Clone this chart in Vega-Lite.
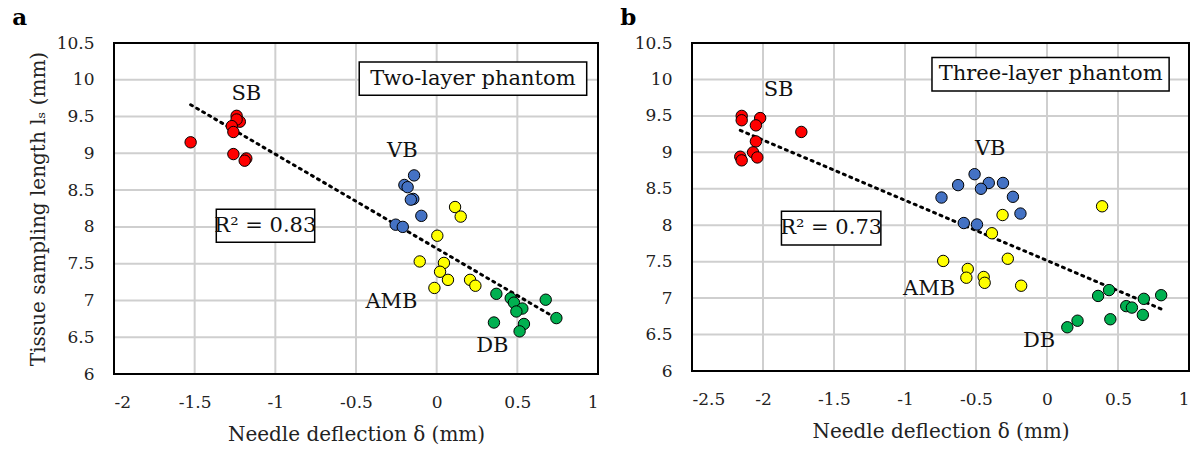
{
  "$schema": "https://vega.github.io/schema/vega-lite/v6.json",
  "padding": {"left": 11, "top": 6, "right": 0, "bottom": 0},
  "background": "white",
  "spacing": 19,
  "datasets": {
    "ptsA": [
      {"x": -1.525, "y": 9.15, "g": "SB"},
      {"x": -1.24, "y": 9.51, "g": "SB"},
      {"x": -1.22, "y": 9.43, "g": "SB"},
      {"x": -1.24, "y": 9.46, "g": "SB"},
      {"x": -1.27, "y": 9.37, "g": "SB"},
      {"x": -1.26, "y": 9.29, "g": "SB"},
      {"x": -1.26, "y": 8.99, "g": "SB"},
      {"x": -1.18, "y": 8.93, "g": "SB"},
      {"x": -1.19, "y": 8.9, "g": "SB"},
      {"x": -0.14, "y": 8.7, "g": "VB"},
      {"x": -0.2, "y": 8.57, "g": "VB"},
      {"x": -0.18, "y": 8.54, "g": "VB"},
      {"x": -0.145, "y": 8.38, "g": "VB"},
      {"x": -0.16, "y": 8.37, "g": "VB"},
      {"x": -0.095, "y": 8.15, "g": "VB"},
      {"x": -0.254, "y": 8.03, "g": "VB"},
      {"x": -0.21, "y": 8.0, "g": "VB"},
      {"x": 0.114, "y": 8.27, "g": "AMB"},
      {"x": 0.149, "y": 8.14, "g": "AMB"},
      {"x": 0.004, "y": 7.88, "g": "AMB"},
      {"x": -0.105, "y": 7.53, "g": "AMB"},
      {"x": 0.045, "y": 7.51, "g": "AMB"},
      {"x": 0.021, "y": 7.39, "g": "AMB"},
      {"x": 0.07, "y": 7.28, "g": "AMB"},
      {"x": 0.207, "y": 7.28, "g": "AMB"},
      {"x": 0.24, "y": 7.2, "g": "AMB"},
      {"x": -0.014, "y": 7.17, "g": "AMB"},
      {"x": 0.37, "y": 7.09, "g": "DB"},
      {"x": 0.459, "y": 7.03, "g": "DB"},
      {"x": 0.479, "y": 6.97, "g": "DB"},
      {"x": 0.531, "y": 6.89, "g": "DB"},
      {"x": 0.494, "y": 6.85, "g": "DB"},
      {"x": 0.676, "y": 7.01, "g": "DB"},
      {"x": 0.742, "y": 6.76, "g": "DB"},
      {"x": 0.355, "y": 6.7, "g": "DB"},
      {"x": 0.541, "y": 6.68, "g": "DB"},
      {"x": 0.514, "y": 6.58, "g": "DB"}
    ],
    "ptsB": [
      {"x": -2.15, "y": 9.5, "g": "SB"},
      {"x": -2.15, "y": 9.44, "g": "SB"},
      {"x": -2.02, "y": 9.47, "g": "SB"},
      {"x": -2.05, "y": 9.37, "g": "SB"},
      {"x": -1.73, "y": 9.28, "g": "SB"},
      {"x": -2.05, "y": 9.15, "g": "SB"},
      {"x": -2.07, "y": 9.0, "g": "SB"},
      {"x": -2.16, "y": 8.94, "g": "SB"},
      {"x": -2.15, "y": 8.89, "g": "SB"},
      {"x": -2.04, "y": 8.93, "g": "SB"},
      {"x": -0.51, "y": 8.7, "g": "VB"},
      {"x": -0.626, "y": 8.55, "g": "VB"},
      {"x": -0.41, "y": 8.58, "g": "VB"},
      {"x": -0.31, "y": 8.58, "g": "VB"},
      {"x": -0.465, "y": 8.5, "g": "VB"},
      {"x": -0.743, "y": 8.38, "g": "VB"},
      {"x": -0.24, "y": 8.39, "g": "VB"},
      {"x": -0.187, "y": 8.16, "g": "VB"},
      {"x": -0.586, "y": 8.03, "g": "VB"},
      {"x": -0.493, "y": 8.01, "g": "VB"},
      {"x": 0.388, "y": 8.26, "g": "AMB"},
      {"x": -0.313, "y": 8.14, "g": "AMB"},
      {"x": -0.388, "y": 7.89, "g": "AMB"},
      {"x": -0.731, "y": 7.51, "g": "AMB"},
      {"x": -0.276, "y": 7.54, "g": "AMB"},
      {"x": -0.558, "y": 7.4, "g": "AMB"},
      {"x": -0.568, "y": 7.28, "g": "AMB"},
      {"x": -0.446, "y": 7.29, "g": "AMB"},
      {"x": -0.439, "y": 7.21, "g": "AMB"},
      {"x": -0.182, "y": 7.17, "g": "AMB"},
      {"x": 0.36, "y": 7.03, "g": "DB"},
      {"x": 0.437, "y": 7.11, "g": "DB"},
      {"x": 0.682, "y": 6.99, "g": "DB"},
      {"x": 0.804, "y": 7.04, "g": "DB"},
      {"x": 0.558, "y": 6.89, "g": "DB"},
      {"x": 0.598, "y": 6.87, "g": "DB"},
      {"x": 0.675, "y": 6.77, "g": "DB"},
      {"x": 0.446, "y": 6.71, "g": "DB"},
      {"x": 0.215, "y": 6.69, "g": "DB"},
      {"x": 0.143, "y": 6.6, "g": "DB"}
    ],
    "labA": [
      {"x": -1.18, "y": 9.81, "t": "SB"},
      {"x": -0.213, "y": 9.03, "t": "VB"},
      {"x": -0.28, "y": 6.98, "t": "AMB"},
      {"x": 0.345, "y": 6.38, "t": "DB"}
    ],
    "labB": [
      {"x": -1.89, "y": 9.86, "t": "SB"},
      {"x": -0.4, "y": 9.05, "t": "VB"},
      {"x": -0.83, "y": 7.12, "t": "AMB"},
      {"x": -0.056, "y": 6.41, "t": "DB"}
    ],
    "boxA": [
      {"x1": -0.48, "x2": 0.93, "y1": 10.24, "y2": 9.79, "xc": 0.225, "yc": 10.01, "t": "Two-layer phantom"},
      {"x1": -1.366, "x2": -0.756, "y1": 8.24, "y2": 7.79, "xc": -1.062, "yc": 8.01, "t": "R² = 0.83"}
    ],
    "boxB": [
      {"x1": -0.81, "x2": 0.86, "y1": 10.3, "y2": 9.84, "xc": 0.026, "yc": 10.07, "t": "Three-layer phantom"},
      {"x1": -1.87, "x2": -1.17, "y1": 8.19, "y2": 7.73, "xc": -1.52, "yc": 7.96, "t": "R² = 0.73"}
    ],
    "gridXA": [{"v": -1.5}, {"v": -1}, {"v": -0.5}, {"v": 0}, {"v": 0.5}],
    "gridXB": [{"v": -2}, {"v": -1.5}, {"v": -1}, {"v": -0.5}, {"v": 0}, {"v": 0.5}],
    "gridY": [{"v": 6.5}, {"v": 7}, {"v": 7.5}, {"v": 8}, {"v": 8.5}, {"v": 9}, {"v": 9.5}, {"v": 10}],
    "frameXA": [{"v": -2}, {"v": 1}],
    "frameXB": [{"v": -2.5}, {"v": 1}],
    "frameY": [{"v": 6}, {"v": 10.5}]
  },
  "hconcat": [
    {
      "width": 484,
      "height": 331,
      "view": {"stroke": "#000000", "strokeWidth": 2, "fill": "white"},
      "title": {"text": "a", "anchor": "start", "frame": "bounds", "dx": -16, "offset": 4, "fontSize": 23, "fontWeight": "bold", "font": "DejaVu Serif", "color": "#000"},
      "layer": [
        {
          "data": {"name": "ptsA"},
          "mark": {"type": "point", "filled": true, "size": 130, "stroke": "black", "strokeWidth": 1, "opacity": 0},
          "encoding": {
            "x": {"field": "x", "type": "quantitative", "scale": {"domain": [-2, 1], "nice": false, "zero": false},
                  "axis": {"tickCount": 6, "labelExpr": "datum.value + ''", "title": "Needle deflection δ (mm)", "labelPadding": 20, "titlePadding": 14}},
            "y": {"field": "y", "type": "quantitative", "scale": {"domain": [6, 10.5], "nice": false, "zero": false},
                  "axis": {"tickCount": 9, "labelExpr": "datum.value + ''", "title": "Tissue sampling length lₛ (mm)", "labelPadding": 20, "titlePadding": 8}}
          }
        },
        {
          "data": {"name": "gridXA"},
          "mark": {"type": "rule", "color": "#cfcfcf", "strokeWidth": 2},
          "encoding": {"x": {"field": "v", "type": "quantitative"}}
        },
        {
          "data": {"name": "gridY"},
          "mark": {"type": "rule", "color": "#cfcfcf", "strokeWidth": 2},
          "encoding": {"y": {"field": "v", "type": "quantitative"}}
        },
        {
          "data": {"name": "boxA"},
          "mark": {"type": "rect", "fill": "white", "stroke": "black", "strokeWidth": 1.5},
          "encoding": {
            "x": {"field": "x1", "type": "quantitative"},
            "x2": {"field": "x2"},
            "y": {"field": "y1", "type": "quantitative"},
            "y2": {"field": "y2"}
          }
        },
        {
          "data": {"name": "ptsA"},
          "transform": [{"regression": "y", "on": "x"}],
          "mark": {"type": "line", "color": "black", "strokeWidth": 3, "strokeDash": [2, 5], "strokeCap": "round"},
          "encoding": {
            "x": {"field": "x", "type": "quantitative"},
            "y": {"field": "y", "type": "quantitative"}
          }
        },
        {
          "data": {"name": "ptsA"},
          "mark": {"type": "point", "filled": true, "size": 130, "stroke": "black", "strokeWidth": 1, "opacity": 1},
          "encoding": {
            "x": {"field": "x", "type": "quantitative"},
            "y": {"field": "y", "type": "quantitative"},
            "fill": {"field": "g", "type": "nominal", "scale": {"domain": ["SB", "VB", "AMB", "DB"], "range": ["#ff0000", "#4472c4", "#ffff00", "#00b050"]}, "legend": null}
          }
        },
        {
          "data": {"name": "labA"},
          "mark": {"type": "text", "fontSize": 21, "color": "#111"},
          "encoding": {
            "x": {"field": "x", "type": "quantitative"},
            "y": {"field": "y", "type": "quantitative"},
            "text": {"field": "t"}
          }
        },
        {
          "data": {"name": "boxA"},
          "mark": {"type": "text", "fontSize": 21, "color": "#111"},
          "encoding": {
            "x": {"field": "xc", "type": "quantitative"},
            "y": {"field": "yc", "type": "quantitative"},
            "text": {"field": "t"}
          }
        },
        {
          "data": {"name": "frameXA"},
          "mark": {"type": "rule", "color": "#000000", "strokeWidth": 2},
          "encoding": {"x": {"field": "v", "type": "quantitative"}}
        },
        {
          "data": {"name": "frameY"},
          "mark": {"type": "rule", "color": "#000000", "strokeWidth": 2},
          "encoding": {"y": {"field": "v", "type": "quantitative"}}
        }
      ]
    },
    {
      "width": 497,
      "height": 328,
      "view": {"stroke": "#000000", "strokeWidth": 2, "fill": "white"},
      "title": {"text": "b", "anchor": "start", "frame": "bounds", "dx": -14, "offset": 4, "fontSize": 23, "fontWeight": "bold", "font": "DejaVu Serif", "color": "#000"},
      "layer": [
        {
          "data": {"name": "ptsB"},
          "mark": {"type": "point", "filled": true, "size": 130, "stroke": "black", "strokeWidth": 1, "opacity": 0},
          "encoding": {
            "x": {"field": "x", "type": "quantitative", "scale": {"domain": [-2.5, 1], "nice": false, "zero": false},
                  "axis": {"tickCount": 7, "labelExpr": "datum.value + ''", "title": "Needle deflection δ (mm)", "labelPadding": 20, "titlePadding": 14}},
            "y": {"field": "y", "type": "quantitative", "scale": {"domain": [6, 10.5], "nice": false, "zero": false},
                  "axis": {"tickCount": 9, "labelExpr": "datum.value + ''", "title": null, "labelPadding": 20}}
          }
        },
        {
          "data": {"name": "gridXB"},
          "mark": {"type": "rule", "color": "#cfcfcf", "strokeWidth": 2},
          "encoding": {"x": {"field": "v", "type": "quantitative"}}
        },
        {
          "data": {"name": "gridY"},
          "mark": {"type": "rule", "color": "#cfcfcf", "strokeWidth": 2},
          "encoding": {"y": {"field": "v", "type": "quantitative"}}
        },
        {
          "data": {"name": "boxB"},
          "mark": {"type": "rect", "fill": "white", "stroke": "black", "strokeWidth": 1.5},
          "encoding": {
            "x": {"field": "x1", "type": "quantitative"},
            "x2": {"field": "x2"},
            "y": {"field": "y1", "type": "quantitative"},
            "y2": {"field": "y2"}
          }
        },
        {
          "data": {"name": "ptsB"},
          "transform": [{"regression": "y", "on": "x"}],
          "mark": {"type": "line", "color": "black", "strokeWidth": 3, "strokeDash": [2, 5], "strokeCap": "round"},
          "encoding": {
            "x": {"field": "x", "type": "quantitative"},
            "y": {"field": "y", "type": "quantitative"}
          }
        },
        {
          "data": {"name": "ptsB"},
          "mark": {"type": "point", "filled": true, "size": 130, "stroke": "black", "strokeWidth": 1, "opacity": 1},
          "encoding": {
            "x": {"field": "x", "type": "quantitative"},
            "y": {"field": "y", "type": "quantitative"},
            "fill": {"field": "g", "type": "nominal", "scale": {"domain": ["SB", "VB", "AMB", "DB"], "range": ["#ff0000", "#4472c4", "#ffff00", "#00b050"]}, "legend": null}
          }
        },
        {
          "data": {"name": "labB"},
          "mark": {"type": "text", "fontSize": 21, "color": "#111"},
          "encoding": {
            "x": {"field": "x", "type": "quantitative"},
            "y": {"field": "y", "type": "quantitative"},
            "text": {"field": "t"}
          }
        },
        {
          "data": {"name": "boxB"},
          "mark": {"type": "text", "fontSize": 21, "color": "#111"},
          "encoding": {
            "x": {"field": "xc", "type": "quantitative"},
            "y": {"field": "yc", "type": "quantitative"},
            "text": {"field": "t"}
          }
        },
        {
          "data": {"name": "frameXB"},
          "mark": {"type": "rule", "color": "#000000", "strokeWidth": 2},
          "encoding": {"x": {"field": "v", "type": "quantitative"}}
        },
        {
          "data": {"name": "frameY"},
          "mark": {"type": "rule", "color": "#000000", "strokeWidth": 2},
          "encoding": {"y": {"field": "v", "type": "quantitative"}}
        }
      ]
    }
  ],
  "config": {
    "font": "DejaVu Serif",
    "view": {"stroke": "#000000", "strokeWidth": 2},
    "axis": {
      "grid": false, "domain": false, "ticks": false, "labelOverlap": false,
      "labelFont": "DejaVu Serif", "labelFontSize": 17, "labelColor": "#222",
      "titleFont": "DejaVu Serif", "titleFontSize": 20, "titleFontWeight": "normal", "titleColor": "#222"
    }
  }
}
